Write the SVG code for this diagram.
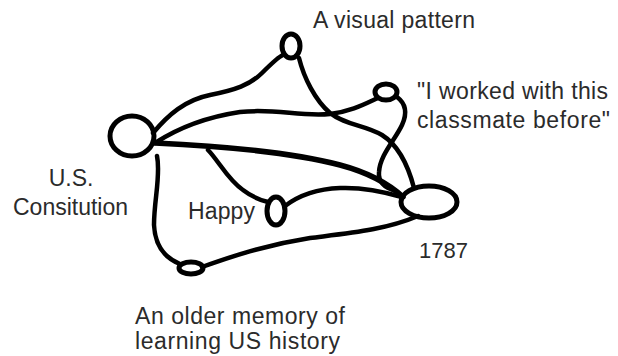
<svg xmlns="http://www.w3.org/2000/svg" width="618" height="356" viewBox="0 0 618 356">
<style>
.n{fill:none;stroke:#000;stroke-width:5}
.c{fill:none;stroke:#000;stroke-width:4.5;stroke-linecap:round;stroke-linejoin:round}
.t{font-family:"Liberation Sans",Arial,sans-serif;font-size:23px;fill:#2b2b2b}
</style>
<rect width="618" height="356" fill="#fff"/>
<g id="connectors">
<path class="c" d="M153,133 C168,115 185,100 210,95 C235,90 250,85 262,73 C272,63 278,57 283,55"/>
<path class="c" d="M299,58 C304,78 315,100 330,113 C345,125 365,125 382,135 C398,145 408,165 414,188"/>
<path class="c" d="M155,143 C175,130 200,118 240,112 C275,108 300,117 330,114 C350,112 365,104 378,98"/>
<path class="c" d="M397,97 C405,103 408,112 402,125 C395,140 380,155 379,172 C378,182 385,188 396,191"/>
<path class="c" style="stroke-width:5.5" d="M155,143 C220,146 290,152 340,165 C370,173 390,185 403,197"/>
<path class="c" d="M208,150 C218,160 228,180 243,190 C252,197 260,200 268,202"/>
<path class="c" d="M285,206 C298,196 315,189 340,188 C365,187 385,192 402,197"/>
<path class="c" d="M157,156 C161,175 154,200 154,225 C155,245 165,258 180,264"/>
<path class="c" d="M202,267 C230,257 265,245 310,238 C350,233 385,230 418,216"/>
</g>
<g id="node-constitution">
<ellipse class="n" cx="132" cy="136" rx="22" ry="20"/>
<text class="t" x="71" y="186" text-anchor="middle">U.S.</text>
<text class="t" x="13" y="215" textLength="115">Consitution</text>
</g>
<g id="node-visual">
<ellipse class="n" cx="291" cy="46" rx="9" ry="12"/>
<text class="t" x="313" y="28" textLength="162">A visual pattern</text>
</g>
<g id="node-classmate">
<ellipse class="n" cx="386" cy="92" rx="11" ry="8"/>
<text class="t" x="417" y="99" textLength="191">"I worked with this</text>
<text class="t" x="417" y="128" textLength="193">classmate before"</text>
</g>
<g id="node-happy">
<ellipse class="n" cx="276" cy="211" rx="9" ry="14"/>
<text class="t" x="188" y="219" textLength="67">Happy</text>
</g>
<g id="node-1787">
<ellipse class="n" cx="429" cy="202" rx="28" ry="16"/>
<text class="t" x="419" y="258" font-size="22" style="font-size:22px">1787</text>
</g>
<g id="node-older">
<ellipse class="n" cx="191" cy="268" rx="12" ry="6"/>
<text class="t" x="135" y="324" textLength="210">An older memory of</text>
<text class="t" x="135" y="349" textLength="205">learning US history</text>
</g>
</svg>
